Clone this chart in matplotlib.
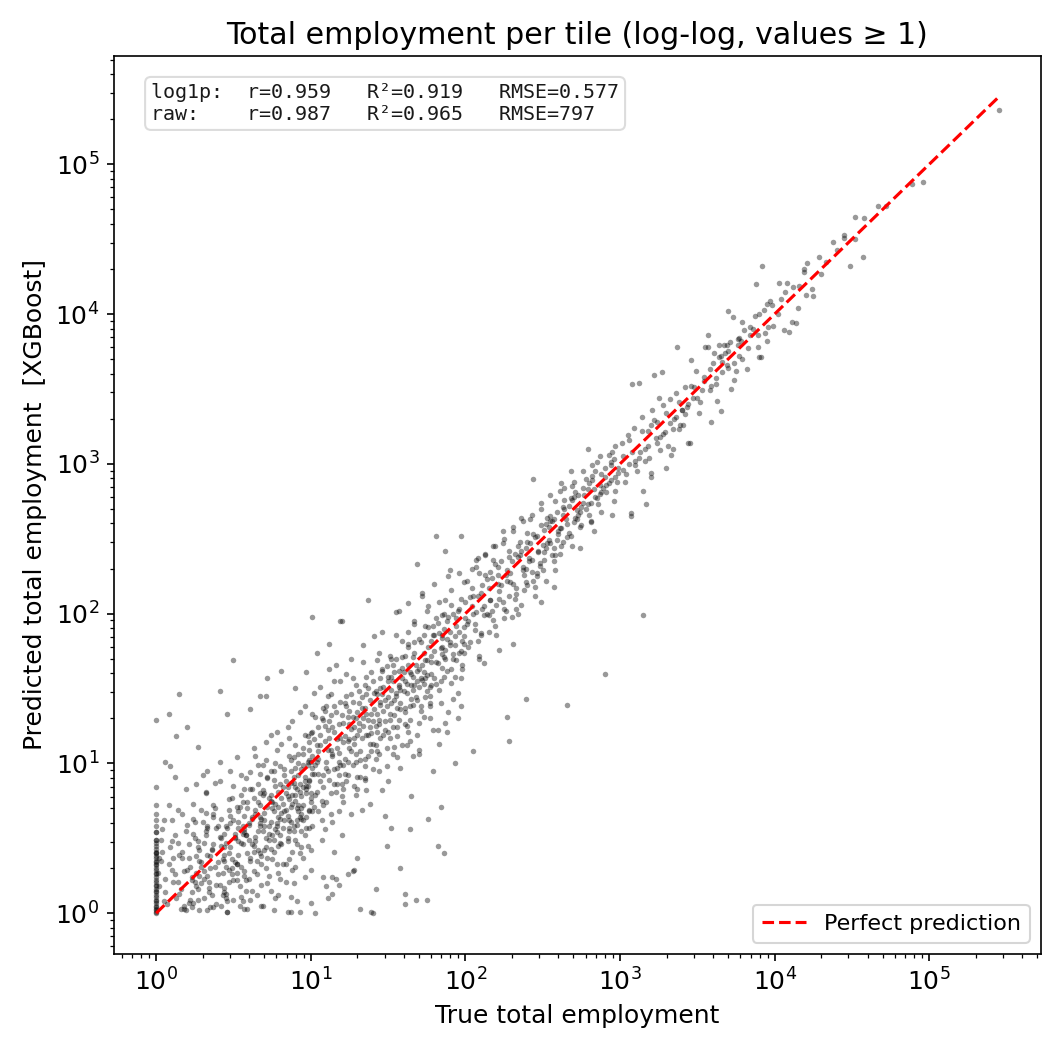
import numpy as np
import matplotlib
matplotlib.use("Agg")
import matplotlib.pyplot as plt

# values, stored as log10(employment)

# tiles with true employment == 1
ones_pred_log = [
    0.00, 0.02, 0.05, 0.08, 0.11, 0.03, 0.15, 0.19, 0.22, 0.26,
    0.30, 0.34, 0.38, 0.41, 0.45, 0.07, 0.12, 0.18, 0.24, 0.29,
    0.33, 0.37, 0.43, 0.49, 0.54, 0.58, 0.62, 0.01, 0.09, 0.16,
    0.21, 0.27, 0.35, 0.40, 0.47, 0.66, 0.72, 0.84, 0.32, 0.40,
    0.49, 0.54, 1.29, 0.04, 0.14,
]

# true 1..10
low_true_log = [
    0.28, 0.31, 0.26, 0.33, 0.29, 0.35, 0.27, 0.32, 0.30, 0.24,
    0.34, 0.25, 0.31, 0.28, 0.36, 0.27, 0.33, 0.29, 0.32, 0.37,
    0.18, 0.16, 0.20, 0.17, 0.19, 0.22, 0.23, 0.21, 0.24, 0.15,
    0.46, 0.50, 0.44, 0.49, 0.52, 0.47, 0.45, 0.51, 0.48, 0.53,
    0.47, 0.50, 0.45, 0.52, 0.49, 0.44, 0.51, 0.46, 0.54, 0.48,
    0.39, 0.41, 0.38, 0.42, 0.40, 0.37, 0.43, 0.44, 0.42, 0.41,
    0.59, 0.62, 0.57, 0.61, 0.63, 0.58, 0.60, 0.64, 0.56, 0.62,
    0.61, 0.58, 0.63, 0.60, 0.57, 0.62, 0.59, 0.64, 0.54, 0.55,
    0.53, 0.55, 0.52, 0.56, 0.57, 0.55, 0.50, 0.46, 0.41, 0.27,
    0.69, 0.72, 0.68, 0.71, 0.73, 0.67, 0.70, 0.74, 0.69, 0.72,
    0.71, 0.68, 0.73, 0.70, 0.67, 0.72, 0.69, 0.71, 0.65, 0.66,
    0.64, 0.66, 0.65, 0.67, 0.68, 0.66, 0.61, 0.71, 0.72, 0.67,
    0.77, 0.79, 0.76, 0.80, 0.78, 0.81, 0.77, 0.79, 0.76, 0.80,
    0.78, 0.80, 0.77, 0.79, 0.81, 0.78, 0.74, 0.75, 0.73, 0.74,
    0.74, 0.76, 0.75, 0.76, 0.82, 0.83, 0.82, 0.81, 0.81, 0.80,
    0.84, 0.86, 0.85, 0.87, 0.84, 0.86, 0.85, 0.83, 0.87, 0.86,
    0.85, 0.84, 0.86, 0.85, 0.88, 0.89, 0.88, 0.87, 0.88, 0.87,
    0.90, 0.91, 0.89, 0.92, 0.90, 0.91, 0.89, 0.92, 0.90, 0.91,
    0.90, 0.89, 0.91, 0.93, 0.94, 0.93, 0.92, 0.93, 0.90, 0.97,
    0.95, 0.96, 0.94, 0.95, 0.97, 0.96, 0.94, 0.95, 0.96, 0.94,
    0.95, 0.96, 0.98, 0.99, 0.97, 0.98, 0.99, 0.97, 0.93, 0.87,
    1.00, 0.99, 1.01, 1.00, 0.98, 1.01, 1.00, 0.99, 1.00, 1.01,
    1.00, 0.99, 1.01, 1.00, 1.00, 0.99, 0.26, 0.33, 0.37, 0.12,
    0.06, 0.09, 0.08, 0.13, 0.20, 0.03, 0.05, 0.10, 0.14, 0.24,
    0.31, 0.47, 0.61, 0.70, 0.79, 0.33, 0.52, 0.64, 0.45, 0.57,
    0.02, 0.04, 0.07, 0.10, 0.12, 0.15, 0.17, 0.19, 0.21, 0.23,
    0.25, 0.27, 0.29, 0.32, 0.34, 0.36, 0.38, 0.40, 0.42, 0.44,
    0.45, 0.47, 0.49, 0.51, 0.53, 0.55, 0.57, 0.59, 0.61, 0.63,
    0.64, 0.66, 0.68, 0.70, 0.72, 0.74, 0.76, 0.78, 0.80, 0.82,
    0.83, 0.85, 0.87, 0.89, 0.91, 0.93, 0.95, 0.97, 0.99, 0.01,
    0.05, 0.08, 0.11, 0.14, 0.16, 0.18, 0.20, 0.23, 0.26, 0.28,
    0.31, 0.33, 0.35, 0.37, 0.39, 0.41, 0.43, 0.46, 0.48, 0.50,
    0.52, 0.54, 0.56, 0.58, 0.60, 0.62, 0.65, 0.67, 0.69, 0.71,
    0.73, 0.75, 0.77, 0.79, 0.81, 0.84, 0.86, 0.88, 0.90, 0.92,
    0.94, 0.96, 0.98, 1.00, 0.03, 0.06, 0.09, 0.13, 0.17, 0.22,
    0.24, 0.28, 0.32, 0.36, 0.39, 0.43, 0.47, 0.51, 0.55, 0.59,
    0.62, 0.66, 0.70, 0.74, 0.78, 0.82, 0.86, 0.90, 0.94, 0.98,
    0.04, 0.10, 0.15, 0.21, 0.27, 0.33, 0.38, 0.44, 0.50, 0.56,
    0.61, 0.67, 0.72, 0.77, 0.83, 0.88, 0.93, 0.97, 0.08, 0.19,
    0.30, 0.41, 0.52, 0.63, 0.74, 0.85, 0.96, 0.35, 0.46, 0.57,
    0.68, 0.79, 0.89, 0.12, 0.23, 0.34, 0.45, 0.56, 0.67, 0.78,
    0.87, 0.91, 0.95, 0.99, 0.02, 0.14, 0.25, 0.37, 0.48, 0.58,
    0.69, 0.80, 0.90, 0.44, 0.53, 0.63, 0.73, 0.84, 0.94, 0.60,
    0.06, 0.18, 0.29, 0.40, 0.49, 0.58, 0.67, 0.76, 0.85, 0.95,
    0.11, 0.26, 0.42, 0.57, 0.71, 0.86, 0.32, 0.53, 0.75, 0.92,
]
low_pred_log = [
    0.02, 0.10, 0.18, 0.25, 0.31, 0.38, 0.44, 0.52, 0.61, 0.07,
    0.14, 0.21, 0.28, 0.35, 0.42, 0.48, 0.57, 0.69, 0.80, 0.04,
    0.03, 0.16, 0.29, 0.41, 0.55, 0.09, 0.24, 0.37, 0.63, 1.46,
    0.01, 0.09, 0.17, 0.26, 0.33, 0.40, 0.47, 0.53, 0.60, 0.68,
    0.76, 0.85, 0.13, 0.22, 0.36, 0.44, 0.51, 0.57, 0.05, 0.95,
    0.06, 0.19, 0.31, 0.45, 0.58, 0.72, 0.12, 0.35, 0.50, 0.88,
    0.03, 0.15, 0.28, 0.37, 0.45, 0.52, 0.59, 0.66, 0.74, 0.83,
    0.94, 0.22, 0.41, 0.49, 0.56, 0.63, 0.70, 1.05, 0.18, 0.47,
    0.61, 0.79, 0.33, 0.08, 0.54, 0.92, 1.69, 1.33, 1.48, 1.11,
    0.05, 0.20, 0.33, 0.44, 0.53, 0.60, 0.67, 0.75, 0.82, 0.91,
    1.02, 0.38, 0.49, 0.58, 0.64, 0.71, 0.79, 1.14, 0.26, 0.55,
    0.69, 0.86, 0.12, 0.40, 0.63, 0.99, 1.36, 1.45, 1.57, 1.45,
    0.10, 0.27, 0.41, 0.52, 0.60, 0.67, 0.73, 0.81, 0.89, 0.98,
    1.09, 0.47, 0.56, 0.64, 0.77, 1.21, 0.15, 0.36, 0.58, 0.79,
    0.95, 0.49, 0.70, 0.02, 0.33, 0.62, 0.84, 1.13, 1.62, 0.23,
    0.21, 0.36, 0.50, 0.61, 0.69, 0.76, 0.84, 0.92, 1.02, 0.57,
    0.65, 0.80, 1.17, 0.01, 0.29, 0.55, 0.73, 0.95, 1.28, 0.11,
    0.31, 0.46, 0.58, 0.68, 0.75, 0.83, 0.91, 1.00, 1.12, 0.62,
    0.79, 0.87, 0.08, 0.40, 0.66, 0.86, 1.06, 1.34, 1.50, 1.61,
    0.37, 0.52, 0.63, 0.72, 0.80, 0.88, 0.96, 1.06, 1.19, 0.70,
    0.84, 0.24, 0.45, 0.68, 0.85, 0.99, 1.14, 0.57, 0.01, 0.01,
    0.42, 0.57, 0.68, 0.77, 0.85, 0.93, 1.01, 1.09, 1.20, 1.33,
    0.74, 0.89, 0.97, 0.29, 0.07, 1.02, 0.86, 0.95, 0.66, 0.91,
    1.01, 0.98, 1.33, 1.18, 1.24, 0.35, 0.62, 0.48, 0.21, 0.53,
    0.23, 0.29, 0.35, 0.42, 0.45, 0.58, 0.71, 0.48, 0.10, 0.25,
    0.18, 0.41, 0.06, 0.29, 0.52, 0.13, 0.37, 0.02, 0.46, 0.22,
    0.61, 0.09, 0.34, 0.55, 0.17, 0.43, 0.70, 0.26, 0.05, 0.39,
    0.58, 0.21, 0.77, 0.34, 0.48, 0.11, 0.65, 0.40, 0.83, 0.28,
    0.51, 0.74, 0.19, 0.62, 0.90, 0.43, 0.68, 0.33, 0.86, 0.57,
    0.96, 0.48, 0.71, 1.04, 0.59, 0.81, 1.10, 0.64, 0.88, 0.27,
    0.08, 0.33, 0.21, 0.47, 0.03, 0.28, 0.59, 0.14, 0.38, 0.25,
    0.47, 0.02, 0.30, 0.64, 0.19, 0.51, 0.36, 0.08, 0.44, 0.62,
    0.27, 0.71, 0.53, 0.15, 0.60, 0.46, 0.35, 0.80, 0.55, 0.30,
    0.77, 0.52, 1.00, 0.71, 0.46, 0.88, 0.62, 0.79, 0.97, 0.72,
    0.55, 0.91, 1.18, 0.80, 0.49, 0.23, 0.44, 0.10, 0.66, 0.31,
    0.73, 0.42, 0.81, 0.12, 0.57, 0.27, 0.69, 0.50, 0.31, 0.74,
    0.64, 0.42, 0.80, 0.61, 0.54, 0.73, 1.05, 0.49, 0.78, 1.01,
    0.56, 0.62, 0.39, 0.07, 0.16, 0.39, 0.87, 0.53, 0.22, 0.46,
    0.09, 0.58, 0.37, 0.85, 0.68, 0.41, 0.64, 0.83, 0.72, 0.83,
    0.92, 1.01, 1.04, 1.10, 1.19, 1.24, 1.38, 0.04, 0.01, 0.03,
    0.05, 0.12, 0.20, 0.26, 0.04, 0.21, 0.31, 0.58, 0.93, 0.58,
    0.87, 0.70, 0.99, 0.69, 0.37, 0.69, 0.50, 0.46, 0.65, 0.90,
    0.99, 0.63, 0.84, 0.14, 0.39, 0.77, 0.25, 0.33, 0.44, 0.23,
    0.14, 0.05, 0.20, 0.34, 0.30, 0.52, 0.72, 0.95, 0.78, 0.62,
    0.37, 0.27, 0.63, 0.83, 0.50, 0.55, 0.67, 0.57, 0.74, 0.92,
]

# true 10..100
mid_true_log = [
    1.02, 1.04, 1.05, 1.07, 1.08, 1.10, 1.11, 1.13, 1.14, 1.15,
    1.17, 1.18, 1.20, 1.21, 1.23, 1.24, 1.26, 1.27, 1.28, 1.30,
    1.31, 1.32, 1.34, 1.35, 1.36, 1.38, 1.39, 1.40, 1.41, 1.43,
    1.44, 1.45, 1.46, 1.48, 1.49, 1.50, 1.51, 1.53, 1.54, 1.55,
    1.56, 1.58, 1.59, 1.60, 1.61, 1.63, 1.64, 1.65, 1.66, 1.68,
    1.69, 1.70, 1.71, 1.73, 1.74, 1.75, 1.76, 1.78, 1.79, 1.80,
    1.81, 1.83, 1.84, 1.85, 1.86, 1.88, 1.89, 1.90, 1.91, 1.93,
    1.94, 1.95, 1.96, 1.97, 1.98, 1.99, 2.00, 1.02, 1.06, 1.09,
    1.03, 1.05, 1.08, 1.11, 1.13, 1.16, 1.19, 1.22, 1.25, 1.29,
    1.12, 1.15, 1.18, 1.22, 1.25, 1.29, 1.33, 1.37, 1.42, 1.47,
    1.33, 1.36, 1.40, 1.44, 1.47, 1.52, 1.57, 1.62, 1.67, 1.72,
    1.50, 1.54, 1.58, 1.62, 1.66, 1.70, 1.74, 1.78, 1.82, 1.86,
    1.05, 1.10, 1.15, 1.20, 1.24, 1.28, 1.32, 1.36, 1.40, 1.45,
    1.48, 1.53, 1.57, 1.61, 1.65, 1.69, 1.73, 1.77, 1.81, 1.85,
    1.04, 1.12, 1.19, 1.27, 1.35, 1.43, 1.51, 1.59, 1.67, 1.75,
    1.09, 1.17, 1.23, 1.31, 1.39, 1.46, 1.55, 1.63, 1.71, 1.79,
    1.88, 1.92, 1.96, 1.99, 1.01, 1.07, 1.14, 1.21, 1.26, 1.30,
    1.38, 1.44, 1.50, 1.56, 1.64, 1.70, 1.77, 1.87, 1.92, 1.97,
    1.75, 1.68, 1.61, 1.42, 1.39, 1.32, 1.58, 1.84, 1.76, 1.52,
    1.64, 1.49, 1.82, 1.86, 1.24, 1.28, 1.16, 1.11, 1.10, 1.03,
    1.61, 1.40, 1.27, 1.14, 1.18, 1.14, 1.08, 1.93, 1.88, 1.83,
    1.04, 1.12, 1.19, 1.01, 1.37, 1.20, 1.81, 1.97, 1.69, 1.87,
    1.06, 1.16, 1.26, 1.34, 1.46, 1.55, 1.63, 1.72, 1.80, 1.90,
    1.01, 1.03, 1.05, 1.07, 1.09, 1.11, 1.13, 1.15, 1.17, 1.19,
    1.21, 1.23, 1.25, 1.27, 1.29, 1.31, 1.33, 1.35, 1.37, 1.39,
    1.41, 1.43, 1.45, 1.47, 1.49, 1.51, 1.53, 1.55, 1.57, 1.59,
    1.61, 1.63, 1.65, 1.67, 1.69, 1.71, 1.73, 1.75, 1.77, 1.79,
    1.81, 1.83, 1.85, 1.87, 1.89, 1.91, 1.93, 1.95, 1.97, 1.99,
    1.02, 1.06, 1.10, 1.14, 1.18, 1.22, 1.26, 1.30, 1.34, 1.38,
    1.42, 1.46, 1.50, 1.54, 1.58, 1.62, 1.66, 1.70, 1.74, 1.78,
    1.82, 1.86, 1.90, 1.94, 1.98, 1.04, 1.08, 1.12, 1.16, 1.20,
    1.24, 1.28, 1.32, 1.36, 1.40, 1.44, 1.48, 1.52, 1.56, 1.60,
    1.64, 1.68, 1.72, 1.76, 1.80, 1.84, 1.88, 1.92, 1.96, 2.00,
    1.01, 1.08, 1.15, 1.22, 1.29, 1.36, 1.43, 1.50, 1.57, 1.64,
    1.71, 1.78, 1.85, 1.92, 1.99, 1.05, 1.13, 1.21, 1.29, 1.37,
    1.45, 1.53, 1.61, 1.69, 1.77, 1.85, 1.93, 1.03, 1.11, 1.19,
    1.27, 1.35, 1.43, 1.51, 1.59, 1.67, 1.75, 1.83, 1.91, 1.99,
    1.07, 1.14, 1.21, 1.28, 1.35, 1.42, 1.49, 1.56, 1.63, 1.70,
    1.77, 1.84, 1.91, 1.98, 1.10, 1.17, 1.24, 1.31, 1.38, 1.45,
    1.52, 1.59, 1.66, 1.73, 1.80, 1.87, 1.94, 1.06, 1.18, 1.30,
    1.42, 1.54, 1.66, 1.78, 1.90, 1.13, 1.25, 1.37, 1.49, 1.61,
    1.73, 1.85, 1.97, 1.09, 1.20, 1.33, 1.46, 1.58, 1.70, 1.82,
    1.15, 1.30, 1.48, 1.65, 1.79, 1.95, 1.41, 1.57, 1.72, 1.89,
    1.02, 1.12, 1.23, 1.34, 1.44, 1.55, 1.67, 1.76, 1.87, 1.96,
    1.08, 1.26, 1.39, 1.52, 1.63, 1.74, 1.86, 1.18, 1.35, 1.62,
]
mid_pred_log = [
    0.71, 1.12, 0.93, 1.30, 0.84, 1.01, 1.22, 0.66, 1.05, 1.38,
    0.97, 1.26, 0.78, 1.14, 1.45, 0.92, 1.08, 1.31, 0.85, 1.19,
    1.40, 1.02, 1.25, 0.89, 1.58, 1.13, 1.33, 0.96, 1.47, 1.21,
    1.06, 1.39, 1.62, 1.28, 0.98, 1.44, 1.17, 1.55, 1.32, 1.70,
    1.24, 1.49, 1.12, 1.61, 1.37, 1.78, 1.29, 1.52, 1.05, 1.66,
    1.42, 1.83, 1.57, 1.31, 1.69, 1.48, 1.91, 1.60, 1.22, 1.75,
    1.53, 1.87, 1.40, 1.99, 1.71, 1.62, 1.34, 1.81, 2.06, 1.58,
    1.92, 1.47, 1.74, 2.10, 1.66, 1.85, 1.97, 1.16, 0.88, 1.35,
    0.99, 1.24, 0.72, 1.09, 1.46, 0.81, 1.17, 1.03, 1.26, 1.52,
    0.89, 1.55, 1.07, 0.93, 1.35, 1.01, 1.17, 1.29, 1.12, 1.35,
    1.44, 0.82, 1.55, 1.26, 1.51, 1.40, 1.62, 1.47, 1.74, 1.56,
    1.58, 1.11, 1.36, 1.25, 1.39, 1.63, 1.44, 1.82, 1.67, 1.90,
    1.08, 0.97, 1.21, 1.32, 1.15, 1.24, 0.91, 1.46, 1.28, 1.57,
    1.22, 1.66, 1.51, 1.72, 1.60, 1.19, 1.86, 1.38, 1.97, 1.78,
    0.81, 1.28, 1.41, 0.99, 1.37, 1.46, 1.29, 1.71, 1.52, 1.69,
    1.25, 0.86, 1.38, 1.27, 1.08, 1.63, 1.45, 1.88, 1.35, 1.92,
    1.95, 1.73, 2.03, 1.80, 0.58, 0.49, 0.61, 0.74, 0.66, 0.83,
    0.73, 0.95, 0.88, 1.04, 1.15, 1.09, 1.30, 1.27, 1.43, 1.38,
    0.09, 0.09, 0.13, 0.16, 0.01, 0.03, 0.30, 0.71, 0.63, 0.57,
    0.56, 0.45, 0.45, 0.40, 0.26, 0.29, 0.23, 0.10, 0.18, 0.00,
    0.06, 0.00, 0.28, 0.13, 0.19, 0.24, 0.24, 1.00, 1.21, 1.13,
    1.74, 1.80, 1.95, 1.98, 2.09, 1.95, 2.52, 2.52, 2.33, 2.42,
    1.51, 1.66, 1.70, 1.79, 1.88, 2.01, 2.07, 2.14, 2.20, 2.29,
    1.21, 0.79, 1.03, 0.62, 1.15, 0.95, 1.32, 0.86, 1.10, 0.99,
    1.27, 0.88, 1.16, 1.41, 1.06, 1.22, 1.37, 1.03, 1.50, 1.20,
    1.36, 1.08, 1.50, 1.19, 1.65, 1.33, 1.06, 1.47, 1.29, 1.57,
    1.26, 1.66, 1.43, 1.81, 1.55, 1.38, 1.74, 1.59, 1.45, 1.86,
    1.68, 1.49, 1.84, 1.70, 1.98, 1.63, 1.79, 2.02, 1.57, 1.91,
    0.93, 1.19, 0.74, 1.24, 1.01, 1.40, 1.23, 0.91, 1.30, 1.42,
    1.25, 1.46, 1.21, 1.61, 1.40, 1.53, 1.71, 1.27, 1.57, 1.68,
    1.94, 1.58, 1.88, 1.69, 1.82, 1.01, 1.29, 1.17, 1.34, 0.86,
    1.01, 1.17, 1.08, 1.33, 1.13, 1.29, 1.42, 1.58, 1.37, 1.48,
    1.61, 1.44, 1.66, 1.78, 1.57, 1.77, 1.83, 1.70, 1.88, 2.08,
    1.05, 0.92, 0.96, 1.18, 1.30, 1.19, 1.33, 1.55, 1.52, 1.38,
    1.81, 1.52, 1.73, 2.00, 1.74, 0.68, 0.80, 0.99, 0.79, 1.05,
    1.17, 1.24, 1.34, 1.62, 1.51, 1.64, 1.85, 1.31, 1.45, 1.55,
    1.57, 1.52, 1.69, 1.72, 1.82, 1.93, 2.02, 2.08, 2.16, 2.21,
    0.75, 1.06, 0.83, 1.13, 0.98, 1.03, 1.10, 1.18, 1.21, 1.51,
    1.40, 1.55, 1.54, 1.63, 1.38, 1.16, 1.31, 1.48, 1.24, 1.41,
    1.49, 1.64, 1.58, 1.61, 1.86, 1.76, 1.97, 1.12, 0.92, 1.34,
    1.48, 1.42, 1.49, 1.72, 1.79, 1.09, 1.10, 1.19, 1.38, 1.55,
    1.53, 1.86, 1.75, 0.56, 0.52, 0.69, 0.82, 0.97, 1.06, 1.22,
    0.41, 0.37, 0.65, 0.78, 0.95, 1.30, 1.85, 2.02, 2.12, 2.25,
    1.47, 1.63, 1.60, 1.68, 1.74, 1.86, 1.95, 2.05, 2.09, 2.27,
    1.37, 1.46, 1.61, 1.70, 1.80, 1.92, 2.00, 0.68, 0.90, 1.12,
]

# true 100..1000
high_true_log = [
    2.01, 2.03, 2.04, 2.06, 2.07, 2.09, 2.10, 2.12, 2.13, 2.15,
    2.16, 2.18, 2.19, 2.21, 2.22, 2.24, 2.25, 2.27, 2.28, 2.30,
    2.31, 2.33, 2.34, 2.36, 2.37, 2.39, 2.40, 2.42, 2.43, 2.45,
    2.46, 2.48, 2.49, 2.51, 2.52, 2.54, 2.55, 2.57, 2.58, 2.60,
    2.61, 2.63, 2.64, 2.66, 2.67, 2.69, 2.70, 2.72, 2.73, 2.75,
    2.76, 2.78, 2.79, 2.81, 2.82, 2.84, 2.85, 2.87, 2.88, 2.90,
    2.91, 2.93, 2.94, 2.96, 2.97, 2.99, 2.02, 2.08, 2.14, 2.20,
    2.05, 2.11, 2.17, 2.23, 2.29, 2.35, 2.41, 2.47, 2.53, 2.59,
    2.26, 2.32, 2.38, 2.44, 2.50, 2.56, 2.62, 2.68, 2.74, 2.80,
    2.04, 2.10, 2.16, 2.22, 2.28, 2.34, 2.40, 2.46, 2.52, 2.58,
    2.64, 2.70, 2.76, 2.82, 2.88, 2.94, 2.98, 2.86, 2.71, 2.55,
    2.05, 2.28, 2.27, 2.39, 2.66, 2.90, 2.44, 2.12, 2.31, 2.49,
    2.57, 2.74, 2.83, 2.62, 2.36, 2.18, 2.08, 2.95, 2.79, 2.68,
    2.01, 2.04, 2.07, 2.10, 2.13, 2.16, 2.19, 2.22, 2.25, 2.28,
    2.31, 2.34, 2.37, 2.40, 2.43, 2.46, 2.49, 2.52, 2.55, 2.58,
    2.61, 2.64, 2.67, 2.70, 2.73, 2.76, 2.79, 2.82, 2.85, 2.88,
    2.91, 2.94, 2.97, 2.03, 2.06, 2.09, 2.12, 2.15, 2.18, 2.21,
    2.24, 2.27, 2.30, 2.33, 2.36, 2.39, 2.42, 2.45, 2.48, 2.51,
    2.54, 2.57, 2.60, 2.63, 2.66, 2.69, 2.72, 2.75, 2.78, 2.81,
    2.84, 2.87, 2.90, 2.93, 2.96, 2.99, 2.02, 2.08, 2.14, 2.20,
    2.26, 2.32, 2.38, 2.44, 2.50, 2.56, 2.62, 2.68, 2.74, 2.80,
    2.07, 2.13, 2.19, 2.25, 2.31, 2.37, 2.43, 2.49, 2.55, 2.61,
    2.11, 2.23, 2.35, 2.47, 2.59, 2.71, 2.83, 2.95, 2.17, 2.41,
    2.05, 2.15, 2.29, 2.53, 2.65, 2.77, 2.89, 2.21, 2.39, 2.57,
    2.09, 2.33, 2.45, 2.63, 2.81, 2.97, 2.51, 2.69, 2.87, 2.24,
]
high_pred_log = [
    2.22, 1.81, 2.05, 1.93, 2.31, 1.70, 2.14, 1.99, 2.40, 1.88,
    2.09, 2.36, 1.92, 2.20, 1.76, 2.47, 2.03, 2.29, 2.12, 1.98,
    2.55, 2.17, 2.38, 2.06, 2.31, 2.44, 2.19, 2.63, 2.28, 2.12,
    2.52, 2.34, 2.70, 2.41, 2.22, 2.58, 2.47, 2.35, 2.75, 2.53,
    2.40, 2.66, 2.84, 2.51, 2.72, 2.45, 2.88, 2.63, 2.79, 2.59,
    2.95, 2.70, 2.83, 2.61, 2.92, 2.78, 3.01, 2.86, 2.68, 2.97,
    2.81, 3.06, 2.89, 2.75, 3.12, 2.94, 1.95, 2.12, 2.23, 2.06,
    2.00, 2.19, 2.02, 2.35, 2.21, 2.48, 2.35, 2.41, 2.64, 2.49,
    2.26, 2.40, 2.26, 2.53, 2.46, 2.62, 2.57, 2.77, 2.68, 2.87,
    2.30, 1.87, 2.28, 2.10, 2.42, 2.00, 2.48, 2.25, 2.60, 2.29,
    2.76, 2.61, 2.74, 2.99, 2.81, 3.01, 2.88, 2.73, 2.81, 2.65,
    1.08, 1.15, 1.31, 1.43, 1.39, 1.60, 2.90, 1.67, 1.80, 2.08,
    2.18, 2.44, 2.55, 2.87, 2.64, 2.45, 2.37, 2.66, 3.10, 2.95,
    1.93, 2.17, 2.01, 1.86, 2.26, 2.09, 2.33, 2.15, 1.97, 2.38,
    2.20, 2.45, 2.29, 2.54, 2.36, 2.27, 2.59, 2.44, 2.62, 2.39,
    2.57, 2.70, 2.54, 2.78, 2.66, 2.84, 2.73, 2.89, 2.77, 2.93,
    2.86, 2.99, 2.91, 2.11, 1.89, 2.27, 2.05, 2.17, 1.96, 2.31,
    2.08, 2.22, 2.35, 2.13, 2.42, 2.30, 2.47, 2.51, 2.32, 2.56,
    2.49, 2.63, 2.55, 2.71, 2.60, 2.76, 2.69, 2.71, 2.90, 2.74,
    2.95, 2.80, 2.91, 2.87, 3.03, 2.97, 1.78, 1.82, 2.00, 1.86,
    2.02, 2.10, 2.16, 2.22, 2.29, 2.39, 2.45, 2.52, 2.58, 2.66,
    2.36, 2.39, 2.45, 2.50, 2.58, 2.62, 2.66, 2.74, 2.79, 2.82,
    2.03, 2.19, 2.39, 2.42, 2.68, 2.64, 2.83, 3.08, 2.24, 2.37,
    2.12, 1.99, 2.27, 2.47, 2.63, 2.79, 2.84, 2.26, 2.21, 2.44,
    1.72, 2.03, 2.18, 2.48, 2.62, 2.82, 2.36, 2.85, 3.05, 2.55,
]

# true 1000..10000
top_true_log = [
    3.08, 3.12, 3.22, 3.27, 3.37, 3.46, 3.55, 3.57, 3.64, 3.67,
    3.69, 3.61, 3.65, 3.70, 3.75, 3.82, 3.79, 3.74, 3.72, 3.63,
    3.59, 3.51, 3.44, 3.30, 3.17, 3.07, 3.07, 3.15, 3.20, 3.20,
    3.33, 3.34, 3.39, 3.41, 3.70, 3.73, 3.79, 3.86, 3.84, 3.99,
    3.94, 3.95, 3.89, 3.91, 3.90, 3.76, 3.77, 3.57, 3.88, 3.92,
    3.97, 3.98, 3.95, 3.93, 3.90, 3.87, 3.15, 3.45, 3.65, 3.10,
    3.01, 3.03, 3.05, 3.06, 3.09, 3.11, 3.13, 3.14, 3.16, 3.18,
    3.19, 3.21, 3.23, 3.24, 3.26, 3.28, 3.29, 3.31, 3.32, 3.35,
    3.36, 3.38, 3.40, 3.42, 3.43, 3.47, 3.49, 3.52, 3.54, 3.58,
    3.60, 3.62, 3.66, 3.68, 3.71, 3.77, 3.80, 3.84, 3.02, 3.25,
    3.02, 3.06, 3.10, 3.14, 3.18, 3.22, 3.26, 3.30, 3.34, 3.38,
    3.42, 3.46, 3.50, 3.54, 3.58, 3.62, 3.66, 3.70, 3.74, 3.78,
    3.04, 3.08, 3.12, 3.16, 3.20, 3.24, 3.28, 3.32, 3.36, 3.40,
    3.44, 3.48, 3.53, 3.59, 3.64, 3.69, 3.76, 3.83, 3.89, 3.96,
]
top_pred_log = [
    3.53, 3.54, 3.59, 3.61, 3.78, 3.69, 3.78, 3.78, 3.79, 3.79,
    3.79, 3.74, 3.72, 3.64, 3.62, 3.63, 3.70, 3.56, 3.50, 3.42,
    3.28, 3.34, 3.14, 2.97, 2.73, 2.67, 2.65, 2.82, 2.91, 2.94,
    3.06, 3.10, 3.26, 3.26, 4.02, 3.98, 3.95, 3.90, 3.86, 3.92,
    3.87, 3.82, 3.78, 3.71, 3.71, 3.83, 3.84, 3.86, 4.20, 4.32,
    4.09, 4.06, 4.07, 4.03, 4.00, 3.99, 1.99, 3.14, 3.35, 3.02,
    3.14, 2.88, 3.19, 3.00, 3.24, 2.95, 3.08, 3.31, 3.02, 3.22,
    3.04, 3.36, 3.17, 3.28, 3.09, 3.39, 3.21, 3.12, 3.43, 3.30,
    3.47, 3.23, 3.36, 3.51, 3.38, 3.44, 3.62, 3.41, 3.58, 3.49,
    3.67, 3.53, 3.61, 3.74, 3.81, 3.72, 3.89, 3.91, 2.96, 3.44,
    3.05, 3.16, 2.99, 3.22, 3.12, 3.29, 3.18, 3.34, 3.23, 3.41,
    3.33, 3.52, 3.44, 3.55, 3.63, 3.57, 3.68, 3.75, 3.67, 3.82,
    2.93, 3.08, 3.04, 3.10, 3.26, 3.14, 3.20, 3.27, 3.31, 3.36,
    3.40, 3.51, 3.49, 3.52, 3.71, 3.66, 3.79, 3.77, 3.86, 3.91,
]

# true > 10000
peak_true_log = [
    4.21, 4.19, 4.19, 4.08, 4.07, 4.16, 4.20, 4.25, 4.24, 4.06,
    4.09, 4.11, 4.14, 4.15, 4.30, 4.29, 4.38, 4.40, 4.57, 4.49,
    4.45, 4.45, 4.52, 4.52, 4.58, 4.67, 4.72, 4.89, 4.96, 5.45,
    4.02, 4.04, 4.12, 4.33, 4.03,
]
peak_pred_log = [
    4.34, 4.30, 4.28, 4.21, 4.15, 4.19, 4.13, 4.12, 4.17, 3.89,
    3.88, 3.95, 3.94, 4.04, 4.27, 4.38, 4.48, 4.43, 4.38, 4.32,
    4.53, 4.51, 4.50, 4.65, 4.64, 4.72, 4.72, 4.87, 4.88, 5.36,
    4.00, 4.10, 4.18, 4.35, 4.21,
]

stats_text = ("log1p:  r=0.959   R\u00b2=0.919   RMSE=0.577\n"
              "raw:    r=0.987   R\u00b2=0.965   RMSE=797")

true_log = np.concatenate([np.zeros(len(ones_pred_log)), low_true_log, mid_true_log,
                           high_true_log, top_true_log, peak_true_log])
pred_log = np.concatenate([ones_pred_log, low_pred_log, mid_pred_log,
                           high_pred_log, top_pred_log, peak_pred_log])
y_true = 10 ** true_log
y_pred = 10 ** pred_log

fig = plt.figure(figsize=(1059 / 150, 1052 / 150), dpi=150)
ax = fig.add_axes([114 / 1059, 98 / 1052, 927 / 1059, 898 / 1052])

ax.scatter(y_true, y_pred, s=7, c="k", alpha=0.4, linewidths=0)
lo = min(y_true.min(), y_pred.min())
hi = max(y_true.max(), y_pred.max())
ax.plot([lo, hi], [lo, hi], "r--", lw=1.5, label="Perfect prediction")

ax.set_xscale("log")
ax.set_yscale("log")
ax.set_xlabel("True total employment", fontsize=12)
ax.set_ylabel("Predicted total employment  [XGBoost]", fontsize=12)
ax.set_title("Total employment per tile (log-log, values \u2265 1)", fontsize=14.4)
ax.tick_params(labelsize=12)

ax.text(0.04, 0.97, stats_text, transform=ax.transAxes, va="top", ha="left",
        family="monospace", fontsize=9.6, color="0.1",
        bbox=dict(boxstyle="round", fc="white", ec="0.85", alpha=0.9))
ax.legend(loc="lower right", fontsize=10.7)

fig.savefig("out.png", dpi=150)
